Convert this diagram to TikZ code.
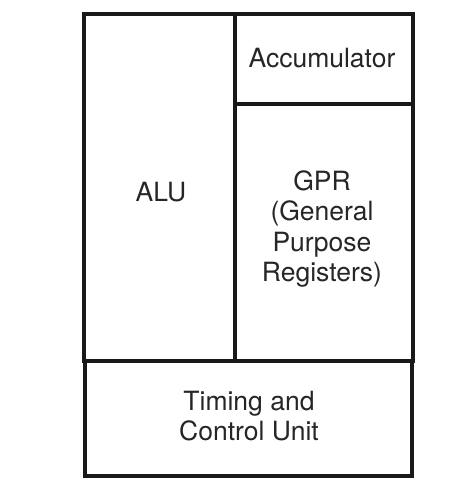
\documentclass[tikz,border=0pt]{standalone}
\usepackage{fontspec}
\setmainfont{TeX Gyre Heros}
\begin{document}
\begin{tikzpicture}[x=1pt,y=-1pt,
  box/.style={draw=black!90,line width=3.5pt},
  lbl/.style={font=\fontsize{26.5}{30.5}\selectfont,align=center,text=black!85}]
\useasboundingbox (0,0) rectangle (474,496);
\fill[white] (0,0) rectangle (474,496);
% outer upper frame
\draw[box] (84,14) rectangle (413,361);
\draw[box] (235,14) -- (235,361);
\draw[box] (235,104) -- (413,104);
% bottom box
\draw[box] (85,361) rectangle (412,476);
\node[lbl] (alu) at (161,192) {ALU};
\node[lbl] (acc) at (322,58) {Accumulator};
\node[lbl] (gpr) at (322,229) {GPR\\(General\\Purpose\\Registers)};
\node[lbl] (tcu) at (249,416) {Timing and\\Control Unit};
\end{tikzpicture}
\end{document}
